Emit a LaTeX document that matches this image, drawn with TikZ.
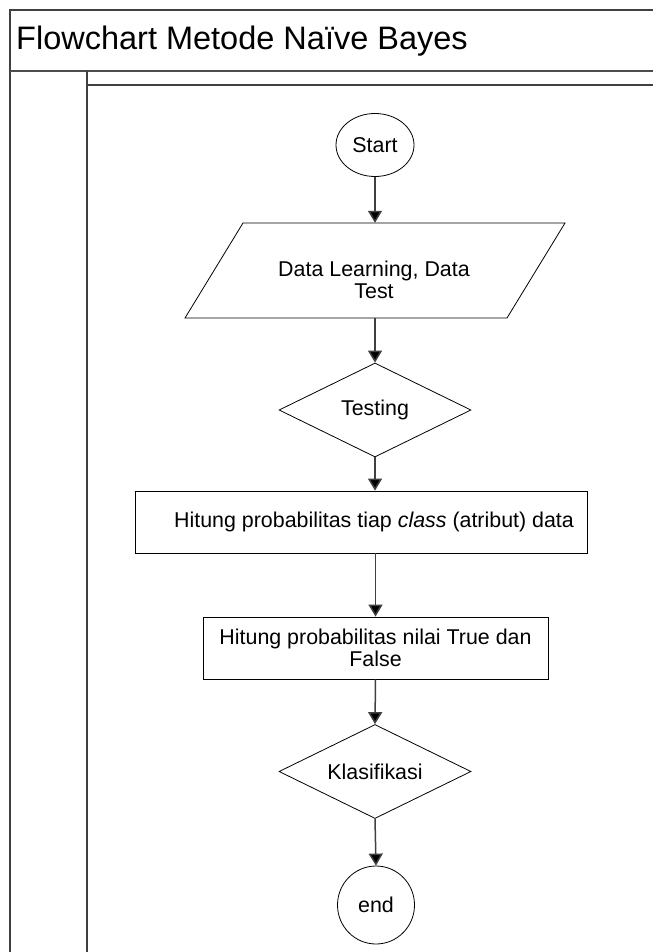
\documentclass[tikz,border=0pt]{standalone}
\usepackage{fontspec}
\setmainfont{Liberation Sans}
\usetikzlibrary{arrows.meta,shapes.geometric}
\newcommand\nfont{\fontsize{21.4}{22}\selectfont}
\begin{document}
\begin{tikzpicture}[x=1pt,y=-1pt,
  frameline/.style={draw=black!75,line width=1.3pt},
  titleline/.style={draw=black!70,line width=2pt},
  shapeline/.style={draw=black,line width=0.8pt},
  box/.style={shapeline,rectangle,inner sep=0pt,font=\nfont,align=center},
  terminal/.style={shapeline,ellipse,inner sep=0pt,font=\nfont},
  decision/.style={shapeline,diamond,inner sep=0pt,aspect=2,minimum width=192pt,minimum height=94pt,font=\nfont},
  plain/.style={inner sep=0pt,font=\nfont,align=center},
  conn/.style={draw=black!75,line width=1.5pt,-{Triangle[width=14pt,length=12pt,fill=black]}}]
\useasboundingbox (0,0) rectangle (653,952);
\fill[white] (0,0) rectangle (653,952);
% frame
\draw[frameline] (10,952) -- (10,10) -- (653,10);
\draw[titleline] (10,71) -- (653,71);
\draw[frameline] (87,71) -- (87,952);
\draw[frameline] (87,85) -- (653,85);
\node[anchor=west,inner sep=0pt,font=\fontsize{32.5}{36}\selectfont] (title) at (16,41) {Flowchart Metode Naïve Bayes};
% nodes
\node[terminal,minimum width=78pt,minimum height=63pt] (start) at (375,145) {Start};
\node[minimum width=380pt,minimum height=95pt,inner sep=0pt] (data) at (375,270.5) {};
\draw[shapeline] (185,318) -- (243,223) -- (565,223) -- (507,318) -- cycle;
\node[plain] (datatext) at (374,280) {Data Learning, Data\\Test};
\node[decision] (test) at (375,410) {Testing};
\node[box,minimum width=452pt,minimum height=62pt] (r1) at (361,522) {\hspace*{26pt}Hitung probabilitas tiap \textit{class} (atribut) data};
\node[box,minimum width=345pt,minimum height=62pt] (r2) at (375.5,648) {Hitung probabilitas nilai True dan\\False};
\node[decision] (klas) at (375,771.5) {Klasifikasi};
\node[terminal,minimum width=77pt,minimum height=78pt] (end) at (376,905) {end};
% connectors
\draw[conn] (start) -- (data.north);
\draw[conn] (data.south) -- (test.north);
\draw[conn] (test.south) -- (test.south |- r1.north);
\draw[conn] (r1.south -| r2.north) -- (r2.north);
\draw[conn] (r2.south) -- (klas.north);
\draw[conn] (klas.south) -- (end.north);
\end{tikzpicture}
\end{document}
